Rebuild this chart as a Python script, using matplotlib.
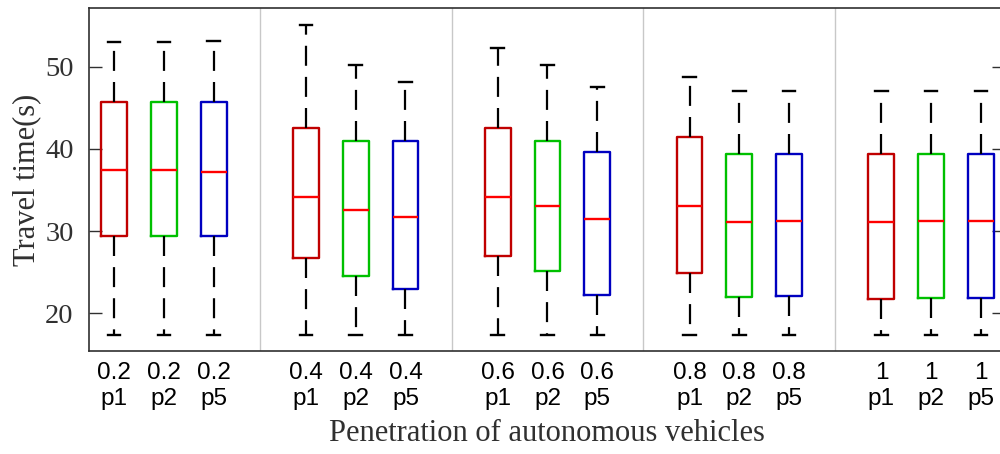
import numpy as np
import matplotlib
matplotlib.use("Agg")
import matplotlib.pyplot as plt

# Datos (tiempo de viaje en s)
penetracion = ["0.2", "0.4", "0.6", "0.8", "1"]
politicas = ["p1", "p2", "p5"]

# por caja: [bigote inferior, Q1, mediana, Q3, bigote superior]
bigote_inf = [17.3, 17.3, 17.3,
              17.3, 17.3, 17.3,
              17.3, 17.3, 17.3,
              17.4, 17.4, 17.4,
              17.4, 17.4, 17.4]
q1 = [29.4, 29.4, 29.4,
      26.7, 24.5, 23.0,
      27.0, 25.1, 22.2,
      24.9, 22.0, 22.1,
      21.7, 21.8, 21.8]
mediana = [37.4, 37.4, 37.2,
           34.1, 32.6, 31.7,
           34.1, 33.0, 31.5,
           33.0, 31.1, 31.2,
           31.1, 31.2, 31.2]
q3 = [45.7, 45.7, 45.7,
      42.6, 41.0, 41.0,
      42.6, 41.0, 39.6,
      41.4, 39.4, 39.4,
      39.4, 39.4, 39.4]
bigote_sup = [53.0, 53.0, 53.1,
              55.1, 50.2, 48.1,
              52.3, 50.2, 47.5,
              48.7, 47.1, 47.1,
              47.1, 47.1, 47.1]

colores = ["#c00000", "#00c000", "#0000c0"]
paso_grupo = 3.85

fig = plt.figure(figsize=(10, 4.54), dpi=100)
ax = fig.add_axes([0.089, 0.2269, 0.915, 0.7555])

posiciones = []
etiquetas = []
stats = []
for i in range(len(mediana)):
    g, j = divmod(i, 3)
    posiciones.append(g * paso_grupo + j)
    etiquetas.append(penetracion[g] + "\n" + politicas[j])
    stats.append(dict(whislo=bigote_inf[i], q1=q1[i], med=mediana[i],
                      q3=q3[i], whishi=bigote_sup[i], fliers=[]))

for i in range(len(stats)):
    ax.bxp([stats[i]], positions=[posiciones[i]], widths=0.52, capwidths=0.25,
           showfliers=False, manage_ticks=False,
           boxprops=dict(color=colores[i % 3], linewidth=1.7),
           medianprops=dict(color="#ff0000", linewidth=1.7),
           whiskerprops=dict(color="black", linewidth=1.6, linestyle=(0, (9, 5))),
           capprops=dict(color="black", linewidth=1.7))

# líneas separadoras entre grupos
for g in range(len(penetracion) - 1):
    xs = (g * paso_grupo + 2 + (g + 1) * paso_grupo) / 2
    ax.axvline(xs, color="#c8c8c8", linewidth=1.0, zorder=0)

ax.set_xlim(-0.5, 4 * paso_grupo + 2 + 0.46)
ax.set_ylim(15.41, 57.14)
ax.set_xticks(posiciones)
ax.set_xticklabels(etiquetas, fontfamily="Liberation Sans", fontsize=17.5,
                   linespacing=1.25)
ax.set_yticks([20, 30, 40, 50])
ax.set_yticklabels(["20", "30", "40", "50"], fontfamily="Liberation Serif",
                   fontsize=20.5, color="#303030")
ax.tick_params(axis="x", length=0, pad=8)
ax.tick_params(axis="y", direction="in", length=9, width=1.0, color="#303030",
               right=True, pad=11)

for s in ax.spines.values():
    s.set_color("#303030")
    s.set_linewidth(1.2)

ax.set_ylabel("Travel time(s)", fontfamily="Liberation Serif", fontsize=22,
              color="#303030", labelpad=3)
ax.set_xlabel("Penetration of autonomous vehicles", fontfamily="Liberation Serif",
              fontsize=22, color="#303030", labelpad=6)

fig.savefig("out.png", dpi=100)
